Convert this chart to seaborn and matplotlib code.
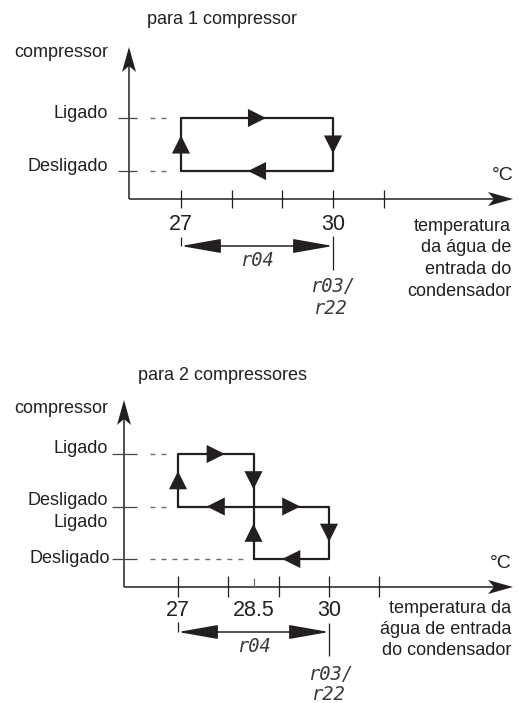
import numpy as np
import pandas as pd
import matplotlib
matplotlib.use("Agg")
import matplotlib.pyplot as plt
import seaborn as sns
from matplotlib.patches import Polygon, FancyArrowPatch, ArrowStyle
from matplotlib import font_manager

# ---------------- data ----------------
# diagram 1 : one compressor
T1_TICKS = [27, 28, 29, 30, 31]
T1_LABELED = [27, 30]
T1_LABELS = ["27", "30"]
LEVELS1 = [1, 0]
LEVEL_LABELS1 = ["Ligado", "Desligado"]
LOOP1_X = [27, 27, 30, 30, 27]
LOOP1_Y = [0, 1, 1, 0, 0]
ARR1_X = [27, 28.5, 30, 28.5]
ARR1_Y = [0.5, 1, 0.5, 0]
ARR1_DIR = ["^", ">", "v", "<"]
SPAN1 = [27, 30]          # r04 differential

# diagram 2 : two compressors
T2_TICKS = [27, 28, 28.5, 29, 30, 31]
T2_LABELED = [27, 28.5, 30]
T2_LABELS = ["27", "28.5", "30"]
LEVELS2 = [2, 1, 0]
LOOP2A_X = [27, 27, 28.5, 28.5, 27]
LOOP2A_Y = [1, 2, 2, 1, 1]
LOOP2B_X = [28.5, 28.5, 30, 30, 28.5]
LOOP2B_Y = [0, 1, 1, 0, 0]
ARR2_X = [27, 27.75, 28.5, 27.75, 29.25, 30, 29.25, 28.5]
ARR2_Y = [1.5, 2, 1.5, 1, 1, 0.5, 0, 0.5]
ARR2_DIR = ["^", ">", "v", "<", ">", "v", "<", "^"]
SPAN2 = [27, 30]

# ---------------- style ----------------
sns.set_theme(style="white")
plt.rcParams["font.family"] = ["Liberation Sans", "DejaVu Sans"]


def has_font(name):
    try:
        font_manager.findfont(name, fallback_to_default=False)
        return True
    except Exception:
        return False


NARROW = "Liberation Sans Narrow" if has_font("Liberation Sans Narrow") else "Liberation Sans"
INK = "#231f20"
GREY = "#6e6e6e"
SEG = ["DejaVu Sans Mono"]

W, H = 528, 703
fig = plt.figure(figsize=(W / 100, H / 100), dpi=100)
fig.patch.set_facecolor("white")


def make_band(top_px, bot_px, xa, xa_px, xb, xb_px, ya, ya_px, yb, yb_px):
    ax = fig.add_axes([0, 1 - bot_px / H, 1, (bot_px - top_px) / H])
    sx = (xb_px - xa_px) / (xb - xa)
    sy = (ya_px - yb_px) / (yb - ya)
    lims = ((xa - xa_px / sx, xa + (W - xa_px) / sx),
            (ya - (bot_px - ya_px) / sy, ya + (ya_px - top_px) / sy))
    ax.set_xlim(*lims[0])
    ax.set_ylim(*lims[1])
    ax.set_axis_off()

    def fx(p):
        return xa + (p - xa_px) / sx

    def fy(p):
        return ya + (ya_px - p) / sy

    return ax, fx, fy, lims


def axis_heads(ax, fx, fy, ox, oy, ytip, xtip):
    L, hw, notch = 25, 7, 6
    ax.plot([fx(ox), fx(ox)], [fy(oy), fy(ytip + L - notch)], color=INK, lw=1.1,
            solid_capstyle="butt", clip_on=False)
    ax.plot([fx(ox), fx(xtip - L + notch)], [fy(oy), fy(oy)], color=INK, lw=1.1,
            solid_capstyle="butt", clip_on=False)
    up = [(ox, ytip), (ox - hw, ytip + L), (ox, ytip + L - notch), (ox + hw, ytip + L)]
    rt = [(xtip, oy), (xtip - L, oy - hw), (xtip - L + notch, oy), (xtip - L, oy + hw)]
    for pts in (up, rt):
        ax.add_patch(Polygon([(fx(a), fy(b)) for a, b in pts], closed=True,
                             fc=INK, ec="none", clip_on=False))


def draw_loops(ax, loops, ax_, ay_, adir):
    for lx, ly in loops:
        sns.lineplot(x=lx, y=ly, sort=False, estimator=None, color=INK, lw=1.6,
                     ax=ax, legend=False)
    df = pd.DataFrame({"x": ax_, "y": ay_, "d": adir})
    sns.scatterplot(data=df, x="x", y="y", style="d",
                    markers={"^": "^", ">": ">", "v": "v", "<": "<"},
                    s=170, color=INK, edgecolor="none", legend=False, ax=ax, clip_on=False)


def dim_arrow(ax, span, y):
    arr = FancyArrowPatch((span[0], y), (span[1], y),
                          arrowstyle=ArrowStyle("<|-|>", head_length=25, head_width=4.4),
                          mutation_scale=1, shrinkA=0, shrinkB=0, color=INK, lw=1.1,
                          clip_on=False)
    ax.add_patch(arr)


txt = dict(color=INK, fontsize=13)
seg = dict(family=SEG, style="italic", fontsize=13.5, color="#3a3a3a", ha="center", va="center")

# ================= diagram 1 =================
ax1, fx, fy, lims1 = make_band(0, 340, 27, 181, 30, 333, 0, 171, 1, 118)
ox, oy = 129, 199
axis_heads(ax1, fx, fy, ox, oy, 47, 513)
ax1.vlines(T1_TICKS, fy(oy + 9), fy(oy - 9), color=INK, lw=0.9)
ax1.hlines(LEVELS1, fx(118), fx(137), color="#444444", lw=0.9)
ax1.hlines(LEVELS1, fx(150), fx(169), color=GREY, lw=1.0, linestyles=(0, (3.6, 4.3)))
draw_loops(ax1, [(LOOP1_X, LOOP1_Y)], ARR1_X, ARR1_Y, ARR1_DIR)
for t, lab in zip(T1_LABELED, T1_LABELS):
    ax1.text(t, fy(224), lab, ha="center", va="center", family=NARROW, fontsize=15.5, color=INK)
for lv, lab in zip(LEVELS1, LEVEL_LABELS1):
    ax1.text(fx(108), lv, lab, ha="right", va="baseline", **txt)
ax1.text(fx(108), fy(57), "compressor", ha="right", va="baseline", **txt)
ax1.text(fx(147), fy(24), "para 1 compressor", ha="left", va="baseline", **txt)
ax1.text(fx(503), fy(175), "°C", ha="center", va="center", family=NARROW, fontsize=14, color=INK)
for i, line in enumerate(["temperatura", "da água de", "entrada do", "condensador"]):
    ax1.text(fx(511), fy(231 + 21.5 * i), line, ha="right", va="baseline", **txt)
ydim = fy(246)
dim_arrow(ax1, SPAN1, ydim)
ax1.vlines([SPAN1[0]], ydim, fy(237), color=INK, lw=0.9)
ax1.vlines([SPAN1[1]], fy(270), fy(236), color=INK, lw=0.9)
ax1.text(np.mean(SPAN1), fy(260), "r04", **seg)
ax1.text(fx(333), fy(286), "r03/", **seg)
ax1.text(fx(330), fy(309), "r22", **seg)
ax1.set_xlim(*lims1[0]); ax1.set_ylim(*lims1[1])

# ================= diagram 2 =================
ax2, fx, fy, lims2 = make_band(340, 703, 27, 178, 30, 329, 0, 559, 2, 454)
ox, oy = 124, 587
axis_heads(ax2, fx, fy, ox, oy, 400, 513)
major = [t for t in T2_TICKS if t != 28.5]
ax2.vlines(major, fy(oy + 10), fy(oy - 11), color=INK, lw=0.9)
ax2.vlines([28.5], fy(oy), fy(oy - 9), color=GREY, lw=0.9)
ax2.hlines(LEVELS2, fx(112), fx(137), color="#444444", lw=0.9)
ax2.hlines([2, 1], fx(150), fx(171), color=GREY, lw=1.0, linestyles=(0, (3.6, 4.3)))
ax2.hlines([0], fx(150), fx(245), color=GREY, lw=1.0, linestyles=(0, (3.6, 4.3)))
draw_loops(ax2, [(LOOP2A_X, LOOP2A_Y), (LOOP2B_X, LOOP2B_Y)], ARR2_X, ARR2_Y, ARR2_DIR)
for t, lab in zip(T2_LABELED, T2_LABELS):
    ax2.text(t, fy(610), lab, ha="center", va="center", family=NARROW, fontsize=15.5, color=INK)
ax2.text(fx(108), fy(453), "Ligado", ha="right", va="baseline", **txt)
ax2.text(fx(108), fy(505), "Desligado", ha="right", va="baseline", **txt)
ax2.text(fx(108), fy(527), "Ligado", ha="right", va="baseline", **txt)
ax2.text(fx(110), fy(563), "Desligado", ha="right", va="baseline", **txt)
ax2.text(fx(108), fy(413), "compressor", ha="right", va="baseline", **txt)
ax2.text(fx(138), fy(380), "para 2 compressores", ha="left", va="baseline", **txt)
ax2.text(fx(501), fy(563), "°C", ha="center", va="center", family=NARROW, fontsize=14, color=INK)
for i, line in enumerate(["temperatura da", "água de entrada", "do condensador"]):
    ax2.text(fx(511), fy(613 + 21 * i), line, ha="right", va="baseline", **txt)
ydim = fy(632)
dim_arrow(ax2, SPAN2, ydim)
ax2.vlines([SPAN2[0]], ydim, fy(622), color=INK, lw=0.9)
ax2.vlines([SPAN2[1]], fy(656), fy(623), color=INK, lw=0.9)
ax2.text(np.mean(SPAN2), fy(646), "r04", **seg)
ax2.text(fx(331), fy(674), "r03/", **seg)
ax2.text(fx(328), fy(695), "r22", **seg)
ax2.set_xlim(*lims2[0]); ax2.set_ylim(*lims2[1])

fig.savefig("out.png", dpi=100, facecolor="white")
